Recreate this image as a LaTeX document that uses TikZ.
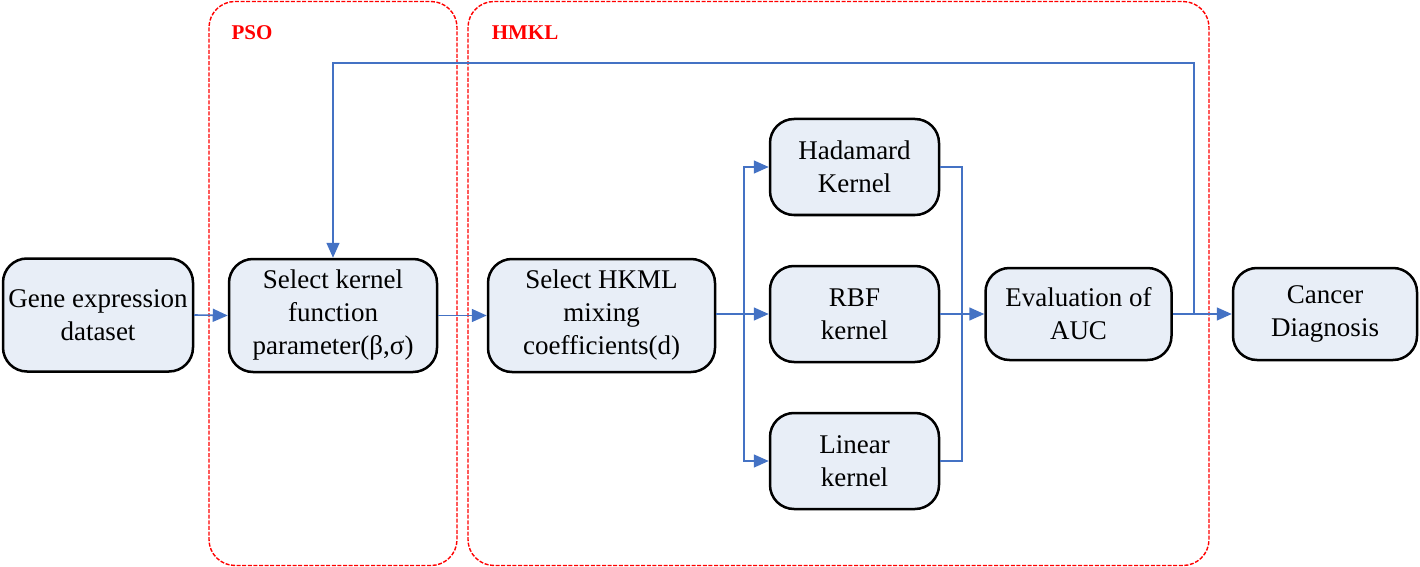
\documentclass[tikz,border=0pt]{standalone}
\usepackage{fontspec}
\setmainfont{Liberation Serif}
\usetikzlibrary{arrows.meta}
\definecolor{boxfill}{HTML}{E8EEF7}
\definecolor{arrblue}{HTML}{4472C4}
\definecolor{grpred}{HTML}{FF0000}
\tikzset{
  procbox/.style={draw=black, line width=1.25pt, rounded corners=12pt, fill=boxfill,
    align=center, inner sep=0pt, font=\fontsize{13.5pt}{16.5pt}\selectfont},
  conn/.style={draw=arrblue, line width=0.8pt},
  arr/.style={conn, -{Triangle[length=7.5pt,width=6.5pt]}},
  grp/.style={draw=grpred, line width=0.7pt, dash pattern=on 2pt off 0.8pt, rounded corners=13pt},
  grplabel/.style={text=grpred, font=\bfseries\fontsize{10.5pt}{12pt}\selectfont, inner sep=0pt}
}
\begin{document}
\begin{tikzpicture}[x=0.5pt,y=-0.5pt]
\useasboundingbox (0,0) rectangle (1420,567);
% group boxes
\draw[grp] (209,1.5) rectangle (457,565.5);
\draw[grp] (468,1.5) rectangle (1209,565.5);
\node[grplabel] (pso) at (252,33) {PSO};
\node[grplabel] (hmkl) at (525,33) {HMKL};
% nodes
\node[procbox, minimum width=95pt, minimum height=56.5pt] (gene) at (98,315) {Gene expression\\dataset};
\node[procbox, minimum width=104pt, minimum height=56.5pt] (sk) at (333,315.5) {Select kernel\\function\\parameter(β,σ)};
\node[procbox, minimum width=113.5pt, minimum height=56.5pt] (hk) at (601.5,315.5) {Select HKML\\mixing\\coefficients(d)};
\node[procbox, minimum width=84.5pt, minimum height=48pt] (had) at (854.5,167) {Hadamard\\Kernel};
\node[procbox, minimum width=84.5pt, minimum height=48pt] (rbf) at (854.5,314) {RBF\\kernel};
\node[procbox, minimum width=84.5pt, minimum height=48pt] (lin) at (854.5,461) {Linear\\kernel};
\node[procbox, minimum width=93pt, minimum height=46pt] (eval) at (1078.5,314) {Evaluation of\\AUC};
\node[procbox, minimum width=92pt, minimum height=46pt] (canc) at (1325,314) {Cancer\\Diagnosis};
% coordinates
\coordinate (split) at (744,314);
\coordinate (merge) at (962,314);
\coordinate (fb) at (1194,314);
\coordinate (fbtop) at (1194,63);
% connectors
\draw[arr] (gene.east) -- (sk.west);
\draw[arr] (sk.east) -- (hk.west);
\draw[arr] (hk.east |- rbf.west) -- (rbf.west);
\draw[arr] (split) |- (had.west);
\draw[arr] (split) |- (lin.west);
\draw[conn] (had.east) -| (merge);
\draw[conn] (lin.east) -| (merge);
\draw[arr] (rbf.east) -- (eval.west);
\draw[arr] (eval.east) -- (canc.west);
\draw[arr] (fb) -- (fbtop) -| (sk.north);
\end{tikzpicture}
\end{document}
